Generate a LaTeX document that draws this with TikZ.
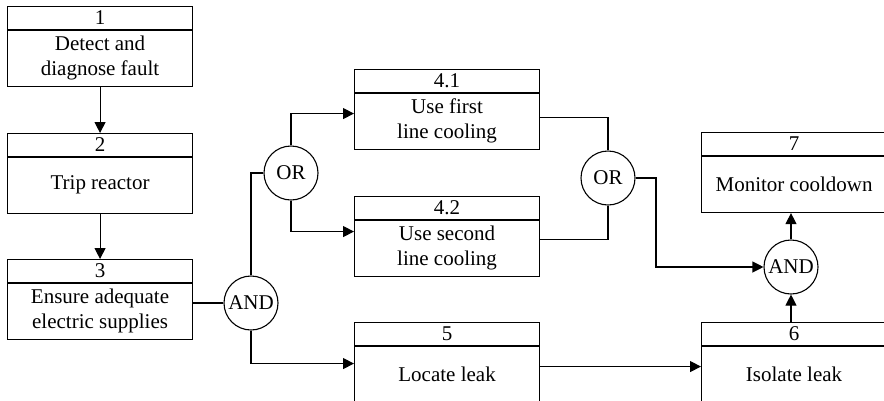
\documentclass[tikz,border=0pt]{standalone}
\usepackage{fontspec}
\setmainfont{LiberationSerif-Regular.ttf}
\usetikzlibrary{arrows.meta}
\tikzset{
  taskbox/.style={draw, line width=1.1pt, minimum width=185pt, minimum height=80pt, inner sep=0pt, anchor=north west},
  hdr/.style={inner sep=0pt, font=\fontsize{21}{25}\selectfont},
  bodytext/.style={inner sep=0pt, align=center, font=\fontsize{21}{25.5}\selectfont},
  gate/.style={draw, circle, line width=1.1pt, minimum size=54pt, inner sep=0pt, font=\fontsize{21}{25}\selectfont},
  conn/.style={line width=1.1pt},
  arr/.style={line width=1.1pt, -{Triangle[length=11pt,width=11pt]}}
}
\newcommand{\taskblock}[5]{%
  \node[taskbox] (#1) at (#2,#3) {};
  \draw[line width=1.1pt] ([yshift=-24pt]#1.north west) -- ([yshift=-24pt]#1.north east);
  \node[hdr] (#1h) at ([yshift=-12pt]#1.north) {#4};
  \node[bodytext] (#1b) at ([yshift=-52pt]#1.north) {#5};
}
\begin{document}
\begin{tikzpicture}[x=1pt,y=-1pt]
\useasboundingbox (0,0) rectangle (884,400);
\clip (0,0) rectangle (884,400);
\taskblock{b1}{7}{6}{1}{Detect and\\diagnose fault}
\taskblock{b2}{7}{133}{2}{Trip reactor}
\taskblock{b3}{7}{259}{3}{Ensure adequate\\electric supplies}
\taskblock{b41}{354}{69}{4.1}{Use first\\line cooling}
\taskblock{b42}{354}{196}{4.2}{Use second\\line cooling}
\taskblock{b5}{354}{322}{5}{Locate leak}
\taskblock{b6}{701}{322}{6}{Isolate leak}
\taskblock{b7}{701}{132}{7}{Monitor cooldown}
\node[gate] (and1) at (251,303) {AND};
\node[gate] (or1) at (291,173) {OR};
\node[gate] (or2) at (608,178) {OR};
\node[gate] (and2) at (791,267) {AND};
\coordinate (k) at (656,178);
\draw[arr] (b1.south) -- (b2.north);
\draw[arr] (b2.south) -- (b3.north);
\draw[conn] (b3.east |- and1) -- (and1.west);
\draw[conn] (and1.north) |- (or1.west);
\draw[arr] (or1.north) |- ([yshift=-4pt]b41.west);
\draw[arr] (or1.south) |- ([yshift=5pt]b42.west);
\draw[arr] (and1.south) |- ([yshift=-1pt]b5.west);
\draw[conn] ([yshift=-8pt]b41.east) -| (or2.north);
\draw[conn] ([yshift=-3pt]b42.east) -| (or2.south);
\draw[arr] (or2.east) -- (k) |- (and2.west);
\draw[arr] ([yshift=-4pt]b5.east) -- ([yshift=-4pt]b6.west);
\draw[arr] (b6.north -| and2) -- (and2.south);
\draw[arr] (and2.north) -- (b7.south -| and2);
\end{tikzpicture}
\end{document}
